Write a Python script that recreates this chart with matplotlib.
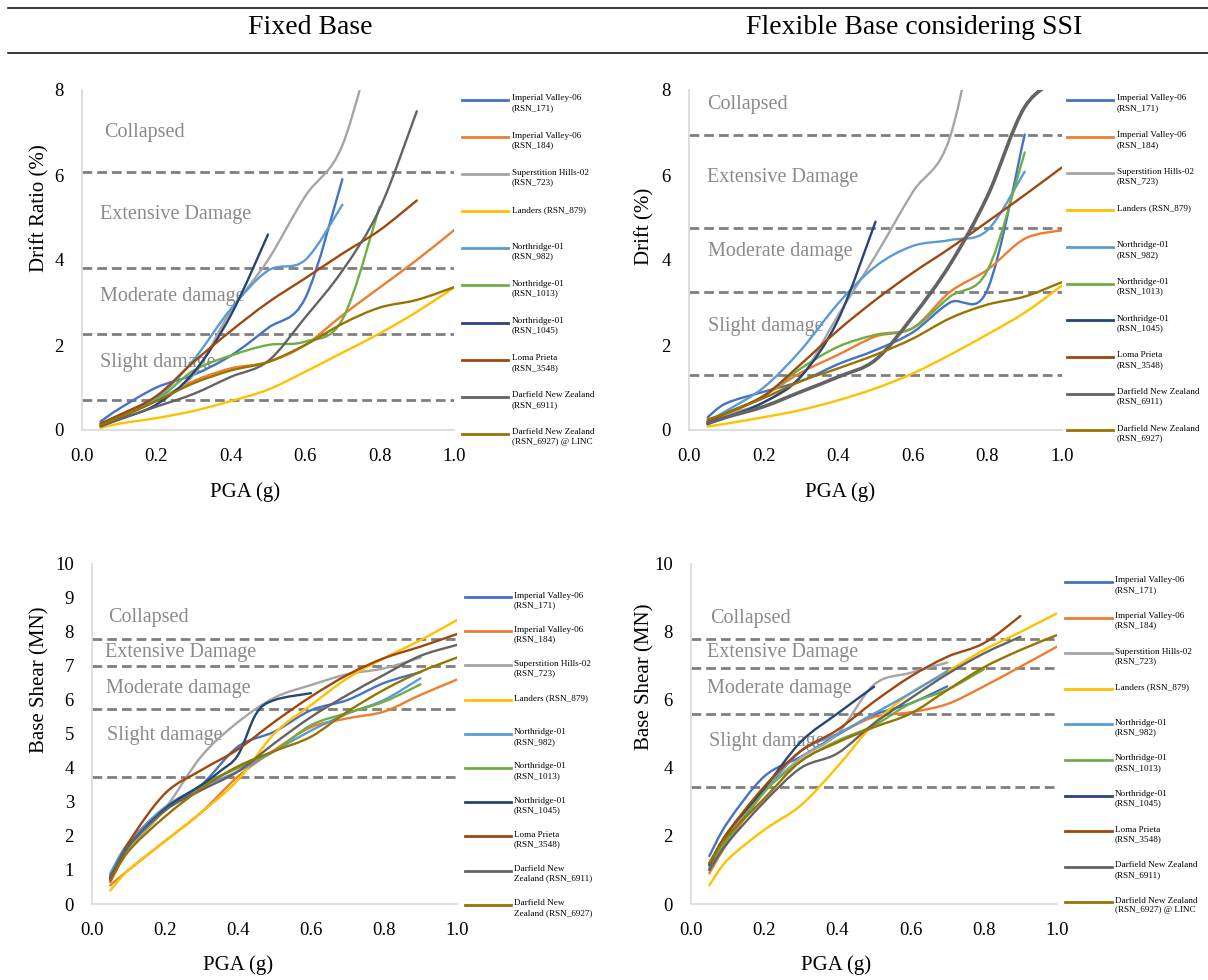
import matplotlib
matplotlib.use("Agg")
import matplotlib.pyplot as plt
from matplotlib.path import Path
from matplotlib.patches import PathPatch
from matplotlib.lines import Line2D

plt.rcParams["font.family"] = ["Liberation Serif", "DejaVu Serif"]

W, H = 1208, 980

# PGA steps (g)
PGA = [0.05, 0.1, 0.2, 0.3, 0.4, 0.5, 0.6, 0.7, 0.8, 0.9, 1.0]
PGA_N1045_FB_SHEAR = [0.05, 0.1, 0.2, 0.3, 0.35, 0.4, 0.45, 0.5, 0.6]

COLORS = ["#4472C4", "#ED7D31", "#A5A5A5", "#FFC000", "#5B9BD5",
          "#70AD47", "#264478", "#9E480E", "#636363", "#997300"]

LABELS_A = ["Imperial Valley-06\n(RSN_171)", "Imperial Valley-06\n(RSN_184)",
            "Superstition Hills-02\n(RSN_723)", "Landers (RSN_879)",
            "Northridge-01\n(RSN_982)", "Northridge-01\n(RSN_1013)",
            "Northridge-01\n(RSN_1045)", "Loma Prieta\n(RSN_3548)",
            "Darfield New Zealand\n(RSN_6911)", "Darfield New Zealand\n(RSN_6927) @ LINC"]
LABELS_B = LABELS_A[:9] + ["Darfield New Zealand\n(RSN_6927)"]
LABELS_C = LABELS_A[:8] + ["Darfield New\nZealand (RSN_6911)", "Darfield New\nZealand (RSN_6927)"]

DAMAGE = ["Collapsed", "Extensive Damage", "Moderate damage", "Slight damage"]

# drift ratio (%), fixed base
FB_DRIFT = [
    [0.2, 0.5, 1.0, 1.3, 1.75, 2.4, 3.1, 5.9],
    [0.1, 0.3, 0.7, 1.15, 1.45, 1.6, 2.0, 2.7, 3.35, 4.0, 4.7],
    [0.15, 0.3, 0.7, 1.3, 2.8, 4.0, 5.5, 6.7, 9.8],
    [0.05, 0.15, 0.28, 0.45, 0.68, 0.95, 1.37, 1.82, 2.27, 2.78, 3.35],
    [0.15, 0.35, 0.75, 1.65, 2.85, 3.75, 4.0, 5.3],
    [0.15, 0.3, 0.7, 1.4, 1.75, 2.0, 2.08, 2.6, 5.25],
    [0.1, 0.25, 0.6, 1.35, 2.7, 4.6],
    [0.15, 0.35, 0.8, 1.6, 2.33, 3.0, 3.57, 4.15, 4.7, 5.4],
    [0.08, 0.25, 0.55, 0.85, 1.25, 1.62, 2.65, 3.75, 5.2, 7.5],
    [0.12, 0.3, 0.68, 1.1, 1.4, 1.6, 2.0, 2.5, 2.88, 3.06, 3.36],
]
# drift (%), flexible base
SSI_DRIFT = [
    [0.3, 0.63, 0.9, 1.15, 1.55, 1.88, 2.3, 3.0, 3.3, 6.95],
    [0.2, 0.35, 0.8, 1.35, 1.77, 2.2, 2.4, 3.25, 3.77, 4.5, 4.7],
    [0.2, 0.35, 0.65, 1.25, 2.7, 4.1, 5.6, 6.9, 11.0],
    [0.08, 0.15, 0.3, 0.47, 0.7, 0.98, 1.33, 1.77, 2.25, 2.76, 3.4],
    [0.2, 0.45, 1.0, 1.88, 2.98, 3.85, 4.33, 4.47, 4.7, 6.08],
    [0.2, 0.4, 0.8, 1.45, 1.96, 2.24, 2.4, 3.14, 3.75, 6.53],
    [0.15, 0.3, 0.65, 1.26, 2.6, 4.9],
    [0.2, 0.4, 0.8, 1.55, 2.35, 3.06, 3.7, 4.28, 4.9, 5.53, 6.18],
    [0.15, 0.3, 0.55, 0.9, 1.25, 1.65, 2.67, 3.9, 5.5, 7.6, 8.3],
    [0.25, 0.4, 0.75, 1.15, 1.45, 1.77, 2.15, 2.63, 2.95, 3.14, 3.48],
]
# base shear (MN), fixed base
FB_SHEAR = [
    [0.85, 1.7, 2.76, 3.5, 4.63, 5.07, 5.7, 6.0, 6.5, 6.82],
    [0.55, 1.0, 1.85, 2.7, 3.75, 4.53, 5.2, 5.46, 5.66, 6.15, 6.6],
    [0.8, 1.6, 2.8, 4.35, 5.35, 6.07, 6.44, 6.76, 6.93, 7.25],
    [0.4, 1.0, 1.85, 2.7, 3.65, 5.02, 5.85, 6.64, 7.23, 7.76, 8.35],
    [0.9, 1.8, 2.85, 3.45, 3.9, 4.5, 5.1, 5.6, 6.0, 6.64],
    [0.75, 1.7, 2.75, 3.5, 4.0, 4.5, 5.26, 5.62, 5.95, 6.46],
    [0.75, 1.7, 2.8, 3.5, 3.9, 4.38, 5.6, 6.0, 6.2],
    [0.7, 1.8, 3.25, 3.94, 4.55, 5.36, 6.1, 6.74, 7.23, 7.57, 7.94],
    [0.8, 1.7, 2.75, 3.35, 3.9, 4.73, 5.5, 6.15, 6.74, 7.3, 7.62],
    [0.65, 1.55, 2.57, 3.4, 4.05, 4.5, 4.92, 5.66, 6.3, 6.83, 7.25],
]
# base shear (MN), flexible base
SSI_SHEAR = [
    [1.41, 2.4, 3.75, 4.33, 4.97, 5.56, 5.9, 6.4],
    [0.9, 1.8, 3.3, 4.5, 5.0, 5.5, 5.64, 5.88, 6.4, 6.98, 7.57],
    [1.1, 2.0, 3.3, 4.3, 5.0, 6.45, 6.8, 7.1],
    [0.55, 1.3, 2.18, 2.9, 4.04, 5.31, 6.2, 6.83, 7.47, 8.0, 8.55],
    [1.0, 1.9, 3.3, 4.5, 5.0, 5.6, 6.2, 6.85],
    [1.05, 1.9, 3.3, 4.2, 4.8, 5.25, 5.9, 6.3, 6.9],
    [1.15, 2.1, 3.4, 4.77, 5.6, 6.39],
    [1.2, 2.1, 3.45, 4.5, 5.12, 5.95, 6.69, 7.27, 7.67, 8.47],
    [1.0, 1.8, 3.0, 4.0, 4.43, 5.31, 6.05, 6.76, 7.37, 7.86],
    [1.2, 2.0, 3.1, 4.2, 4.75, 5.2, 5.6, 6.29, 6.96, 7.47, 7.91],
]

FB_DRIFT_LIMITS = [6.08, 3.8, 2.25, 0.7]
SSI_DRIFT_LIMITS = [6.95, 4.75, 3.25, 1.3]
FB_SHEAR_LIMITS = [7.8, 7.0, 5.75, 3.73]
SSI_SHEAR_LIMITS = [7.8, 6.95, 5.6, 3.43]


def smooth_path(xs, ys):
    # Excel-like smoothed line: Catmull-Rom segments as cubic Bezier
    pts = list(zip(xs, ys))
    n = len(pts)
    verts = [pts[0]]
    codes = [Path.MOVETO]
    for i in range(n - 1):
        p0 = pts[max(i - 1, 0)]
        p1 = pts[i]
        p2 = pts[i + 1]
        p3 = pts[min(i + 2, n - 1)]
        c1 = (p1[0] + (p2[0] - p0[0]) / 6, p1[1] + (p2[1] - p0[1]) / 6)
        c2 = (p2[0] - (p3[0] - p1[0]) / 6, p2[1] - (p3[1] - p1[1]) / 6)
        verts += [c1, c2, p2]
        codes += [Path.CURVE4] * 3
    return Path(verts, codes)


def fx(px):
    return px / W


def fy(py):
    return 1 - py / H


fig = plt.figure(figsize=(W / 100, H / 100), dpi=100)

# header rules and titles
fig.add_artist(Line2D([fx(8), 1], [fy(8), fy(8)], color="black", lw=1.1))
fig.add_artist(Line2D([fx(8), 1], [fy(53), fy(53)], color="black", lw=1.1))
fig.text(fx(310), fy(28), "Fixed Base", ha="center", va="center", fontsize=20)
fig.text(fx(914), fy(28), "Flexible Base considering SSI", ha="center", va="center", fontsize=20)

panels = [
    dict(box=(82, 90, 454, 430), data=FB_DRIFT, limits=FB_DRIFT_LIMITS, ymax=8,
         yticks=[0, 2, 4, 6, 8], ylabel="Drift Ratio (%)", ylab=(40, 208), xlab=(245, 492),
         text_pos=[(0.059, 7.0), (0.048, 5.08), (0.048, 3.15), (0.048, 1.6)],
         legend=(462, 508, 512, 100, 37.1), labels=LABELS_A),
    dict(box=(689, 90, 1062, 430), data=SSI_DRIFT, limits=SSI_DRIFT_LIMITS, ymax=8,
         yticks=[0, 2, 4, 6, 8], ylabel="Drift (%)", ylab=(645, 226), xlab=(840, 492),
         text_pos=[(0.048, 7.65), (0.048, 5.95), (0.051, 4.2), (0.051, 2.44)],
         legend=(1067, 1113, 1117, 100, 36.7), labels=LABELS_B),
    dict(box=(92, 564, 457, 904), data=FB_SHEAR, limits=FB_SHEAR_LIMITS, ymax=10,
         yticks=list(range(0, 11)), ylabel="Base Shear (MN)", ylab=(40, 680), xlab=(238, 965),
         text_pos=[(0.044, 8.42), (0.036, 7.39), (0.038, 6.33), (0.041, 4.95)],
         legend=(465, 511, 514, 597, 34.2), labels=LABELS_C),
    dict(box=(691, 564, 1057, 904), data=SSI_SHEAR, limits=SSI_SHEAR_LIMITS, ymax=10,
         yticks=[0, 2, 4, 6, 8, 10], ylabel="Base Shear (MN)", ylab=(645, 677), xlab=(836, 965),
         text_pos=[(0.052, 8.39), (0.044, 7.39), (0.044, 6.33), (0.049, 4.77)],
         legend=(1065, 1112, 1115, 582, 35.6), labels=LABELS_A),
]

for k, p in enumerate(panels):
    x0, y0, x1, y1 = p["box"]
    ax = fig.add_axes([fx(x0), fy(y1), (x1 - x0) / W, (y1 - y0) / H])
    ax.set_xlim(0, 1.0)
    ax.set_ylim(0, p["ymax"])
    ax.set_xticks([0, 0.2, 0.4, 0.6, 0.8, 1.0])
    ax.set_xticklabels(["0.0", "0.2", "0.4", "0.6", "0.8", "1.0"])
    ax.set_yticks(p["yticks"])
    ax.tick_params(length=0, labelsize=13.5, pad=13)
    for s in ["top", "right"]:
        ax.spines[s].set_visible(False)
    for s in ["left", "bottom"]:
        ax.spines[s].set_color("#D9D9D9")
        ax.spines[s].set_linewidth(1.2)

    for lim in p["limits"]:
        ax.axhline(lim, color="#7F7F7F", lw=2.0, dashes=(3.5, 1.8), zorder=1.5)

    for (tx, ty), lab in zip(p["text_pos"], DAMAGE):
        ax.text(tx, ty, lab, ha="left", va="center", fontsize=14.5, color="#8A8A8A", zorder=1)

    for i, ys in enumerate(p["data"]):
        xs = PGA_N1045_FB_SHEAR if (k == 2 and i == 6) else PGA[:len(ys)]
        lw = 2.6 if (k == 1 and i == 8) else 1.7
        patch = PathPatch(smooth_path(xs, ys), fill=False, edgecolor=COLORS[i],
                          lw=lw, zorder=2 + i * 0.01, capstyle="round", joinstyle="round")
        ax.add_patch(patch)

    fig.text(fx(p["ylab"][0]), fy(p["ylab"][1]), p["ylabel"], rotation=90,
             ha="center", va="center", fontsize=15)
    fig.text(fx(p["xlab"][0]), fy(p["xlab"][1]), "PGA (g)", ha="center", va="center", fontsize=15)

    lx0, lx1, tx, ly, step = p["legend"]
    for i, lab in enumerate(p["labels"]):
        yy = ly + i * step
        fig.add_artist(Line2D([fx(lx0), fx(lx1)], [fy(yy), fy(yy)], color=COLORS[i], lw=2.0))
        fig.text(fx(tx), fy(yy - 5.5), lab, ha="left", va="top", fontsize=6.6, linespacing=1.25)

fig.savefig("out.png", dpi=100)
